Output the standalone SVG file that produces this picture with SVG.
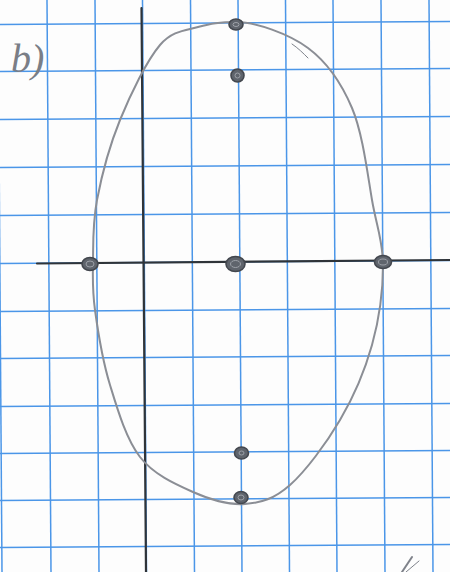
<svg xmlns="http://www.w3.org/2000/svg" width="450" height="572" viewBox="0 0 450 572">
<style>
.grid line{stroke:#4b96e8;stroke-width:1.5}
.axis{stroke:#2f3439;stroke-width:2.2;fill:none;stroke-linecap:round}
.curve{stroke:#8b8e95;stroke-width:2;fill:none;stroke-linejoin:round}
.dot ellipse.o{fill:#5f646c;stroke:#43474e;stroke-width:1.6}
.dot ellipse.i{fill:none;stroke:#9da1a8;stroke-width:1}
.pencil{stroke:#7e828a;fill:none;stroke-linecap:round}
</style>
<rect width="450" height="572" fill="#fdfdfd"/>
<g id="grid" class="grid">
<line x1="-2" y1="0" x2="2" y2="572"/>
<line x1="47" y1="0" x2="51" y2="572"/>
<line x1="95" y1="0" x2="99" y2="572"/>
<line x1="142.5" y1="0" x2="146.5" y2="572"/>
<line x1="190.5" y1="0" x2="194.5" y2="572"/>
<line x1="238" y1="0" x2="242" y2="572"/>
<line x1="285.5" y1="0" x2="289.5" y2="572"/>
<line x1="333" y1="0" x2="337" y2="572"/>
<line x1="381" y1="0" x2="385" y2="572"/>
<line x1="429" y1="0" x2="433" y2="572"/>
<line x1="0" y1="24.5" x2="450" y2="21.5"/>
<line x1="0" y1="71.5" x2="450" y2="68.5"/>
<line x1="0" y1="119.5" x2="450" y2="116.5"/>
<line x1="0" y1="167.5" x2="450" y2="164.5"/>
<line x1="0" y1="215.5" x2="450" y2="212.5"/>
<line x1="0" y1="263.5" x2="450" y2="260.5"/>
<line x1="0" y1="311.5" x2="450" y2="308.5"/>
<line x1="0" y1="358.5" x2="450" y2="355.5"/>
<line x1="0" y1="406.5" x2="450" y2="403.5"/>
<line x1="0" y1="453.5" x2="450" y2="450.5"/>
<line x1="0" y1="500.5" x2="450" y2="497.5"/>
<line x1="0" y1="547.5" x2="450" y2="544.5"/>
</g>
<g id="axes">
<line class="axis" x1="141.5" y1="8" x2="146" y2="572"/>
<line class="axis" x1="37" y1="263.5" x2="450" y2="260"/>
</g>
<g id="connectors">
<path id="ellipse-curve" class="curve" d="M237,22 C255,22 288.8,33.7 308,48 C327.2,62.3 341.3,82.7 352,108 C362.7,133.3 367.5,173.8 372,200 C376.5,226.2 383,240.8 383,265 C383,289.2 379.2,319.2 372,345 C364.8,370.8 353.7,396.7 340,420 C326.3,443.3 305.8,471 290,485 C274.2,499 261.2,502.8 245,504 C228.8,505.2 210.5,499.8 193,492 C175.5,484.2 153.8,474.8 140,457 C126.2,439.2 117.5,409.5 110,385 C102.5,360.5 97.8,330.5 95,310 C92.2,289.5 92.7,280.3 93,262 C93.3,243.7 92.5,223.7 97,200 C101.5,176.3 109.5,145.8 120,120 C130.5,94.2 146.7,60.7 160,45 C172,31 185,30.5 198,27 C211,23.5 219,22 237,22 Z"/>
<path class="pencil" stroke-width="1" d="M292,44 C298,48 303,53 308,58"/>
</g>
<g id="p-top" class="dot"><ellipse class="o" cx="236" cy="24.5" rx="7" ry="5.5"/><ellipse class="i" cx="236" cy="24.5" rx="3" ry="2"/></g>
<g id="p-upper" class="dot"><ellipse class="o" cx="237.5" cy="75.5" rx="6.5" ry="6.5"/><ellipse class="i" cx="237.5" cy="75.5" rx="2.5" ry="2.5"/></g>
<g id="p-left" class="dot"><ellipse class="o" cx="90" cy="264" rx="8" ry="6.5"/><ellipse class="i" cx="90" cy="264" rx="4" ry="3"/></g>
<g id="p-center" class="dot"><ellipse class="o" cx="235.5" cy="264" rx="9.5" ry="7.5"/><ellipse class="i" cx="235.5" cy="264" rx="5" ry="3.5"/></g>
<g id="p-right" class="dot"><ellipse class="o" cx="383" cy="262" rx="8.5" ry="6.5"/><ellipse class="i" cx="383" cy="262" rx="4.5" ry="3"/></g>
<g id="p-lower" class="dot"><ellipse class="o" cx="241.5" cy="453" rx="7" ry="6"/><ellipse class="i" cx="241.5" cy="453" rx="2.5" ry="2"/></g>
<g id="p-bottom" class="dot"><ellipse class="o" cx="241" cy="497.5" rx="7" ry="6"/><ellipse class="i" cx="241" cy="497.5" rx="3" ry="2.5"/></g>
<g id="label">
<text x="11" y="72" font-family="'Liberation Serif', serif" font-style="italic" font-size="40" fill="#7a7e86">b)</text>
</g>
<g id="corner-mark">
<path class="pencil" stroke-width="2" d="M402,572 L412,557"/>
<path class="pencil" stroke-width="1" d="M406,572 L419,561"/>
</g>
</svg>
